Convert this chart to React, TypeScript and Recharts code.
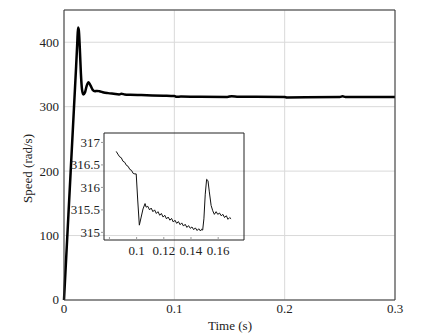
import { CartesianGrid, Line, LineChart, XAxis, YAxis } from "recharts";

// main plot: rotor speed over the whole run
const mainTime = [
  0, 0.002, 0.004, 0.006, 0.008, 0.01, 0.011, 0.012, 0.0127, 0.0134, 0.0143,
  0.0153, 0.0163, 0.0175, 0.019, 0.0205, 0.0222, 0.024, 0.026, 0.028, 0.03,
  0.032, 0.036, 0.04, 0.045, 0.05, 0.052, 0.055, 0.06, 0.07, 0.08, 0.09, 0.1,
  0.102, 0.106, 0.12, 0.148, 0.152, 0.158, 0.17, 0.2, 0.202, 0.25, 0.2525,
  0.255, 0.3,
];
const mainSpeed = [
  0, 66, 132, 198, 264, 330, 363, 398, 423, 419, 392, 352, 327, 319, 322, 332,
  338, 333, 326, 324, 324.5, 324, 322, 321, 320, 319, 320, 319, 318.5, 318,
  317.5, 317, 316.4, 315.2, 315.6, 315.4, 315.1, 316.2, 315.4, 315.3, 315,
  314.4, 315, 316, 315, 315,
];

// inset: zoom on the load steps
const insetTime = [
  0.085, 0.0862, 0.0875, 0.0887, 0.09, 0.0912, 0.0925, 0.0937, 0.095, 0.0962,
  0.0975, 0.0987, 0.0997, 0.1008, 0.102, 0.1032, 0.1047, 0.1062, 0.107, 0.1082,
  0.1095, 0.1107, 0.112, 0.1132, 0.1145, 0.1157, 0.117, 0.1182, 0.1195, 0.1207,
  0.122, 0.1232, 0.1245, 0.1257, 0.127, 0.1282, 0.1295, 0.1307, 0.132, 0.1332,
  0.1345, 0.1357, 0.137, 0.1382, 0.1395, 0.1407, 0.142, 0.1432, 0.1445,
  0.1457, 0.147, 0.1478, 0.1486, 0.1495, 0.1505, 0.1515, 0.1525, 0.1535,
  0.1548, 0.156, 0.1572, 0.1585, 0.1597, 0.161, 0.1622, 0.1635, 0.1647, 0.166,
  0.1672, 0.1685, 0.1695,
];
const insetSpeed = [
  316.8, 316.74, 316.68, 316.66, 316.58, 316.56, 316.49, 316.47, 316.4,
  316.38, 316.31, 316.3, 316.3, 315.72, 315.16, 315.32, 315.52, 315.64,
  315.56, 315.58, 315.5, 315.54, 315.46, 315.5, 315.42, 315.46, 315.38,
  315.42, 315.34, 315.38, 315.3, 315.34, 315.27, 315.31, 315.23, 315.27,
  315.2, 315.24, 315.17, 315.21, 315.14, 315.18, 315.11, 315.15, 315.09,
  315.12, 315.06, 315.1, 315.04, 315.08, 315.03, 315.07, 315.05, 315.3,
  315.85, 316.18, 316.15, 315.9, 315.6, 315.48, 315.4, 315.46, 315.4, 315.43,
  315.37, 315.4, 315.33, 315.37, 315.29, 315.33, 315.3,
];

const mainXTicks = [0, 0.1, 0.2, 0.3];
const mainYTicks = [0, 100, 200, 300, 400];
const insetXTicks = [0.08, 0.1, 0.12, 0.14, 0.16];
const insetXLabels = ["", "0.1", "0.12", "0.14", "0.16"];
const insetYTicks = [315, 315.5, 316, 316.5, 317];

const mainData = mainTime.map((t, i) => ({ t, speed: mainSpeed[i] }));
const insetData = insetTime.map((t, i) => ({ t, speed: insetSpeed[i] }));

const font = "'Liberation Serif', 'Times New Roman', serif";

// recharts drops fontFamily on its default ticks, so draw them ourselves
function serifTick(side: "x" | "y", labels?: { ticks: number[]; text: string[] }) {
  return (props: any) => {
    const v = props.payload.value;
    let txt = String(v);
    if (labels) {
      const k = labels.ticks.indexOf(v);
      if (k >= 0) txt = labels.text[k];
    }
    return (
      <text
        x={props.x}
        y={props.y}
        textAnchor={side === "x" ? "middle" : "end"}
        dy={side === "x" ? "0.71em" : "0.34em"}
        fontFamily={font}
        fontSize={13}
        fill="#222"
      >
        {txt}
      </text>
    );
  };
}

export default function App() {
  return (
    <div
      style={{
        position: "absolute",
        left: 0,
        top: 0,
        width: 432,
        height: 335,
        background: "#fff",
      }}
    >
      <div style={{ position: "absolute", left: 0, top: 0 }}>
        <LineChart
          width={432}
          height={335}
          data={mainData}
          margin={{ top: 9, right: 36, bottom: 0, left: 10 }}
        >
          <CartesianGrid stroke="#d9d9d9" strokeWidth={1} />
          <XAxis
            dataKey="t"
            type="number"
            domain={[0, 0.3]}
            ticks={mainXTicks}
            interval={0}
            height={35}
            tickSize={0}
            tickMargin={4}
            tick={serifTick("x")}
            axisLine={{ stroke: "#333" }}
          />
          <XAxis
            xAxisId="top"
            dataKey="t"
            orientation="top"
            type="number"
            domain={[0, 0.3]}
            height={1}
            tick={false}
            tickLine={false}
            axisLine={{ stroke: "#333" }}
          />
          <YAxis
            type="number"
            domain={[0, 450]}
            ticks={mainYTicks}
            interval={0}
            width={54}
            tickSize={0}
            tickMargin={5}
            tick={serifTick("y")}
            axisLine={{ stroke: "#333" }}
          />
          <YAxis
            yAxisId="right"
            orientation="right"
            type="number"
            domain={[0, 450]}
            width={1}
            tick={false}
            tickLine={false}
            axisLine={{ stroke: "#333" }}
          />
          <Line
            dataKey="speed"
            type="monotone"
            stroke="#000"
            strokeWidth={2.5}
            dot={false}
            isAnimationActive={false}
          />
          {/* invisible copy so the top/right frame axes get drawn */}
          <Line
            xAxisId="top"
            yAxisId="right"
            dataKey="speed"
            stroke="#000"
            strokeOpacity={0}
            dot={false}
            activeDot={false}
            isAnimationActive={false}
          />
        </LineChart>
      </div>

      <div style={{ position: "absolute", left: 60, top: 125 }}>
        <LineChart
          width={190}
          height={140}
          data={insetData}
          margin={{ top: 7, right: 5, bottom: 0, left: 0 }}
        >
          <XAxis
            dataKey="t"
            type="number"
            domain={[0.076, 0.179]}
            ticks={insetXTicks}
            interval={0}
            height={25}
            tickSize={-3}
            tickMargin={9}
            tick={serifTick("x", { ticks: insetXTicks, text: insetXLabels })}
            tickLine={{ stroke: "#999" }}
            axisLine={{ stroke: "#222" }}
          />
          <XAxis
            xAxisId="top"
            dataKey="t"
            orientation="top"
            type="number"
            domain={[0.076, 0.179]}
            ticks={insetXTicks}
            interval={0}
            height={1}
            tickSize={-3}
            tick={false}
            tickLine={{ stroke: "#999" }}
            axisLine={{ stroke: "#222" }}
          />
          <YAxis
            type="number"
            domain={[314.83, 317.21]}
            ticks={insetYTicks}
            interval={0}
            width={44}
            tickSize={3}
            tickMargin={1}
            tick={serifTick("y")}
            tickLine={{ stroke: "#999" }}
            axisLine={{ stroke: "#222" }}
          />
          <YAxis
            yAxisId="right"
            orientation="right"
            type="number"
            domain={[314.83, 317.21]}
            ticks={insetYTicks}
            interval={0}
            width={1}
            tickSize={-3}
            tick={false}
            tickLine={{ stroke: "#999" }}
            axisLine={{ stroke: "#222" }}
          />
          <Line
            dataKey="speed"
            type="linear"
            stroke="#111"
            strokeWidth={1}
            dot={false}
            isAnimationActive={false}
          />
          <Line
            xAxisId="top"
            yAxisId="right"
            dataKey="speed"
            stroke="#111"
            strokeOpacity={0}
            dot={false}
            activeDot={false}
            isAnimationActive={false}
          />
        </LineChart>
      </div>

      <svg
        width={432}
        height={335}
        style={{ position: "absolute", left: 0, top: 0, pointerEvents: "none" }}
      >
        <text
          x={27.5}
          y={168.5}
          transform="rotate(-90, 27.5, 168.5)"
          textAnchor="middle"
          dominantBaseline="central"
          fontFamily={font}
          fontSize={13}
          fill="#222"
        >
          Speed (rad/s)
        </text>
        <text
          x={230}
          y={325.5}
          textAnchor="middle"
          dominantBaseline="central"
          fontFamily={font}
          fontSize={13}
          fill="#222"
        >
          Time (s)
        </text>
      </svg>
    </div>
  );
}
